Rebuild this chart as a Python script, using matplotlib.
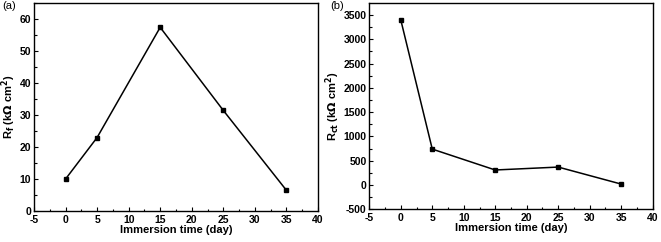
import matplotlib
matplotlib.use("Agg")
import matplotlib.pyplot as plt
from matplotlib.ticker import MultipleLocator

plt.rcParams['font.family'] = ['Liberation Sans', 'DejaVu Sans']
plt.rcParams['axes.unicode_minus'] = False

days = [0, 5, 15, 25, 35]
rf = [10, 23, 57.5, 31.5, 6.5]
rct = [3400, 740, 310, 370, 20]

fig = plt.figure(figsize=(6.61, 2.42), dpi=100)
ax1 = fig.add_axes([0.0514, 0.128, 0.4296, 0.858])
ax2 = fig.add_axes([0.5587, 0.135, 0.4287, 0.851])


def style(ax, y, ylabel, ymajor):
    ax.plot(days, y, color="black", lw=1.1, marker="s", ms=3.5)
    ax.set_xlim(-5, 40)
    ax.xaxis.set_major_locator(MultipleLocator(5))
    ax.xaxis.set_minor_locator(MultipleLocator(2.5))
    ax.yaxis.set_major_locator(MultipleLocator(ymajor))
    ax.yaxis.set_minor_locator(MultipleLocator(ymajor / 2))
    ax.tick_params(which="both", direction="in", top=False, right=False,
                   labelsize=7.5)
    ax.tick_params(axis="x", pad=3)
    ax.tick_params(axis="y", pad=2)
    ax.tick_params(which="major", length=3, width=0.8)
    ax.tick_params(which="minor", length=1.8, width=0.8)
    for lab in ax.get_xticklabels() + ax.get_yticklabels():
        lab.set_fontweight("bold")
    for s in ax.spines.values():
        s.set_linewidth(1.0)
    ax.set_xlabel("Immersion time (day)", fontsize=8, fontweight="bold", labelpad=0)
    ax.set_ylabel(ylabel, fontsize=8, fontweight="bold", labelpad=1)


ax1.set_ylim(0, 65)
style(ax1, rf, r"R$_\mathbf{f}$ (k$\mathbf{\Omega}$ cm$^\mathbf{2}$)", 10)

ax2.set_ylim(-500, 3740)
style(ax2, rct, r"R$_\mathbf{ct}$ (k$\mathbf{\Omega}$ cm$^\mathbf{2}$)", 500)

fig.text(0.004, 0.962, "(a)", fontsize=8)
fig.text(0.499, 0.962, "(b)", fontsize=8)

fig.savefig("out.png", dpi=100)
